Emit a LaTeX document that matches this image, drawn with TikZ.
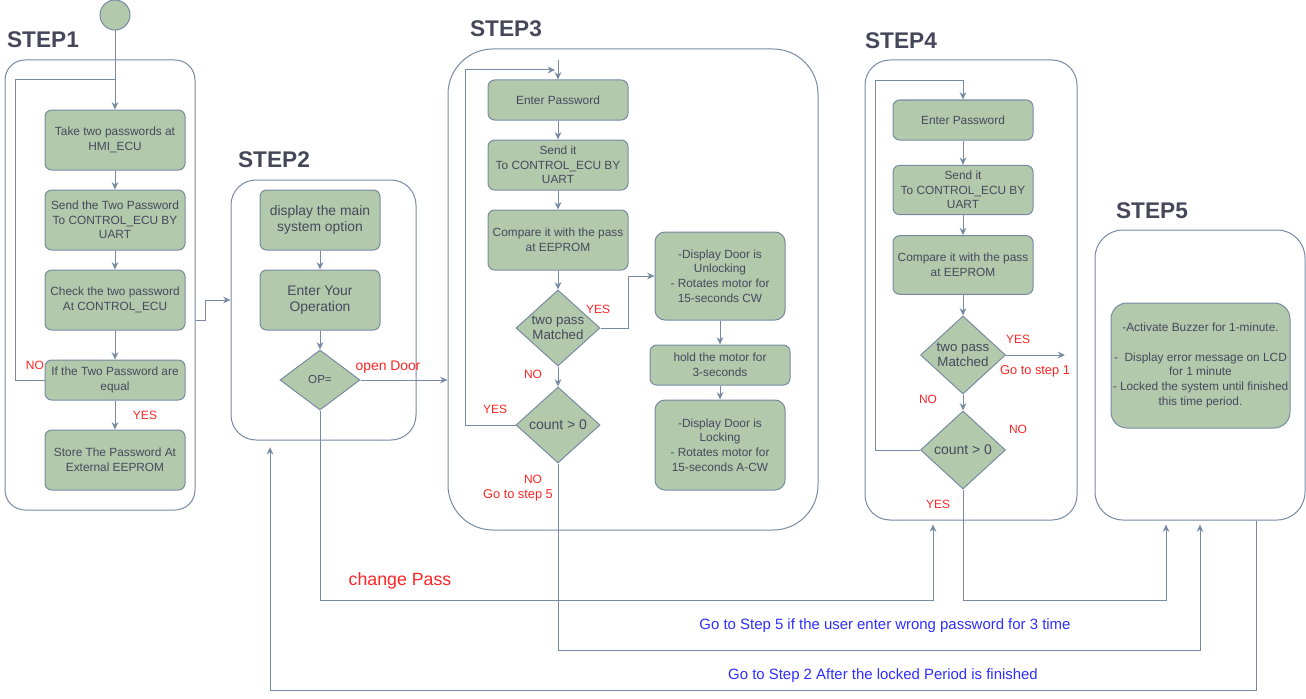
\documentclass[tikz,border=0pt]{standalone}
\usepackage{fontspec}
\setmainfont{Liberation Sans}
\usetikzlibrary{shapes.geometric,arrows.meta}
\definecolor{boxfill}{HTML}{B2C9AB}
\definecolor{boxline}{HTML}{788AA3}
\definecolor{boxtext}{HTML}{46495D}
\definecolor{titletext}{HTML}{45475A}
\definecolor{labred}{HTML}{FF2424}
\definecolor{labblue}{HTML}{2E2EFF}

\begin{document}
\begin{tikzpicture}[x=0.75pt,y=-0.75pt,
  stepbox/.style={draw=boxline,fill=boxfill,text=boxtext,line width=0.75pt,
    rounded corners=5pt,align=center,inner sep=1pt,
    font=\fontsize{8.9}{11}\selectfont},
  bigbox/.style={stepbox,font=\fontsize{10.4}{12.5}\selectfont},
  decide/.style={diamond,draw=boxline,fill=boxfill,text=boxtext,line width=0.75pt,
    align=center,inner sep=-3pt,aspect=1.1,font=\fontsize{10}{11.5}\selectfont},
  frame/.style={draw=boxline,line width=0.75pt,inner sep=0pt},
  title/.style={text=titletext,font=\fontsize{17}{20}\selectfont\bfseries},
  lab/.style={text=labred,inner sep=0pt,font=\fontsize{9}{11}\selectfont},
  note/.style={text=labblue,inner sep=0pt,font=\fontsize{11.2}{13}\selectfont},
  link/.style={draw=boxline,line width=0.75pt},
  arr/.style={link,-{Stealth[length=5.5pt,width=5pt]}}]
  \useasboundingbox (0,0) rectangle (1306,699);

  \node[frame,rounded corners=15pt,minimum width=142.5pt,minimum height=337.5pt] (s1) at (100,285) {};
  \node[frame,rounded corners=18.75pt,minimum width=138.75pt,minimum height=195pt] (s2) at (323.5,310) {};
  \node[frame,rounded corners=33.75pt,minimum width=277.5pt,minimum height=360.75pt] (s3) at (633,289.5) {};
  \node[frame,rounded corners=18.75pt,minimum width=159pt,minimum height=345pt] (s4) at (971,290) {};
  \node[frame,rounded corners=21pt,minimum width=157.5pt,minimum height=217.5pt] (s5) at (1200,375) {};

  \node[title] (t1) at (43,40) {STEP1};
  \node[title] (t2) at (274,160) {STEP2};
  \node[title] (t3) at (506,29) {STEP3};
  \node[title] (t4) at (901,41) {STEP4};
  \node[title] (t5) at (1152,211) {STEP5};

  \node[circle,draw=boxline,fill=boxfill,line width=0.75pt,minimum size=22.5pt,inner sep=0pt] (st) at (115,15) {};
  \node[stepbox,minimum width=105pt,minimum height=45pt] (b1) at (115,140) {Take two passwords at\\HMI\_ECU};
  \node[stepbox,minimum width=105pt,minimum height=45pt] (b2) at (115,220) {Send the Two Password\\To CONTROL\_ECU BY\\UART};
  \node[stepbox,minimum width=105pt,minimum height=45pt] (b3) at (115,300) {Check the two password\\At CONTROL\_ECU};
  \node[stepbox,minimum width=105pt,minimum height=30pt] (b4) at (115,380) {If the Two Password are\\equal};
  \node[stepbox,minimum width=105pt,minimum height=45pt] (b5) at (115,460) {Store The Password At\\External EEPROM};
  \node[lab] (no1) at (35,365) {NO};
  \node[lab] (yes1) at (145,415) {YES};

  \draw[arr] (st.south) -- (b1.north);
  \draw[arr] (b1.south) -- (b2.north);
  \draw[arr] (b2.south) -- (b3.north);
  \draw[arr] (b3.south) -- (b4.north);
  \draw[arr] (b4.south) -- (b5.north);
  \draw[link] (b4.west) -- (15,380) |- (115,80);
  \draw[arr] ([yshift=-26.25pt]s1.east) -- ++(10,0) |- ([yshift=7.5pt]s2.west);

  \node[bigbox,minimum width=90pt,minimum height=45pt] (m2a) at (320,220) {display the main\\system option};
  \node[bigbox,minimum width=90pt,minimum height=45pt] (m2b) at (320,300) {Enter Your\\Operation};
  \node[decide,minimum width=60pt,minimum height=45pt,font=\fontsize{8.7}{10}\selectfont] (op) at (320,380) {OP=};
  \node[lab,font=\fontsize{10.4}{12}\selectfont] (od) at (388,367) {open Door};
  \node[lab,font=\fontsize{13.3}{15}\selectfont] (cpw) at (400,581) {change Pass};

  \draw[arr] (m2a.south) -- (m2b.north);
  \draw[arr] (m2b.south) -- (op.north);
  \draw[arr] (op.east) -- (op.east -| s3.west);
  \draw[arr,shorten >=3pt] (op.south) |- (933,600) -- ([xshift=-28.5pt]s4.south);

  \coordinate (in3) at (558,60);
  \coordinate (re3) at (555,70);
  \node[stepbox,minimum width=105pt,minimum height=30pt] (e3) at (558,100) {Enter Password};
  \node[stepbox,minimum width=105pt,minimum height=37.5pt] (u3) at (558,165) {Send it\\To CONTROL\_ECU BY\\UART};
  \node[stepbox,minimum width=105pt,minimum height=45pt] (cp3) at (558,240) {Compare it with the pass\\at EEPROM};
  \node[decide,minimum width=63pt,minimum height=57pt] (d3) at (558,328) {two pass\\Matched};
  \node[decide,minimum width=63pt,minimum height=57pt,font=\fontsize{10.5}{12}\selectfont] (c3) at (558,425) {count > 0};
  \node[stepbox,rounded corners=7.5pt,minimum width=97.5pt,minimum height=66pt] (un3) at (720,276) {-Display Door is\\Unlocking\\- Rotates motor for\\15-seconds CW};
  \node[stepbox,minimum width=105pt,minimum height=30pt] (hd3) at (720,365) {hold the motor for\\3-seconds};
  \node[stepbox,rounded corners=7.5pt,minimum width=97.5pt,minimum height=67.5pt] (lk3) at (720,445) {-Display Door is\\Locking\\- Rotates motor for\\15-seconds A-CW};
  \node[lab] (yes3a) at (598,309) {YES};
  \node[lab] (no3a) at (533,374) {NO};
  \node[lab] (yes3b) at (495,409) {YES};
  \node[lab] (no3b) at (533,479) {NO};
  \node[lab,font=\fontsize{9.6}{11}\selectfont] (go5) at (518,495) {Go to step 5};

  \draw[arr] (in3) -- (e3.north);
  \draw[arr] (e3.south) -- (u3.north);
  \draw[arr] (u3.south) -- (cp3.north);
  \draw[arr] (cp3.south) -- (d3.north);
  \draw[arr] (d3.south) -- (c3.north);
  \draw[arr] (d3.east) -- ++(28,0) |- (un3.west);
  \draw[arr] (un3.south) -- (hd3.north);
  \draw[arr] (hd3.south) -- (lk3.north);
  \draw[arr] (c3.west) -- ++(-50,0) |- (re3);
  \draw[arr,shorten >=3pt] (c3.south) |- (1200,650) -- (s5.south);

  \coordinate (out4) at (1065,355);
  \node[stepbox,minimum width=105pt,minimum height=30pt] (e4) at (963,120) {Enter Password};
  \node[stepbox,minimum width=105pt,minimum height=37pt] (u4) at (963,190) {Send it\\To CONTROL\_ECU BY\\UART};
  \node[stepbox,minimum width=105pt,minimum height=44pt] (cp4) at (963,265) {Compare it with the pass\\at EEPROM};
  \node[decide,minimum width=63.75pt,minimum height=58.5pt] (d4) at (963,355) {two pass\\Matched};
  \node[decide,minimum width=63.75pt,minimum height=58.5pt,font=\fontsize{10.5}{12}\selectfont] (c4) at (963,450) {count > 0};
  \node[lab] (yes4a) at (1018,339) {YES};
  \node[lab,font=\fontsize{9.6}{11}\selectfont] (go1) at (1035,371) {Go to step 1};
  \node[lab] (no4a) at (928,399) {NO};
  \node[lab] (no4b) at (1018,429) {NO};
  \node[lab] (yes4b) at (938,504) {YES};

  \draw[arr] (e4.south) -- (u4.north);
  \draw[arr] (u4.south) -- (cp4.north);
  \draw[arr] (cp4.south) -- (d4.north);
  \draw[arr] (d4.south) -- (c4.north);
  \draw[arr] (d4.east) -- (out4);
  \draw[arr] (c4.west) -- ++(-45,0) |- (963,81) -- (e4.north);
  \draw[arr,shorten >=3pt] (c4.south) |- (1166,600) -- ([xshift=-25.5pt]s5.south);

  \node[stepbox,rounded corners=12pt,minimum width=134.25pt,minimum height=93.75pt] (bz) at (1200.5,365.5)
    {-Activate Buzzer for 1-minute.\\[11pt]-\ \ Display error message on LCD\\for 1 minute\\- Locked the system until finished\\this time period.};

  \draw[arr,shorten >=5pt] ([xshift=42pt]s5.south) |- (270,690) -- ([xshift=-40.125pt]s2.south);

  \node[note] (n5) at (885,626) {Go to Step 5 if the user enter wrong password for 3 time};
  \node[note] (n2) at (883,676) {Go to Step 2 After the locked Period is finished};
\end{tikzpicture}
\end{document}
